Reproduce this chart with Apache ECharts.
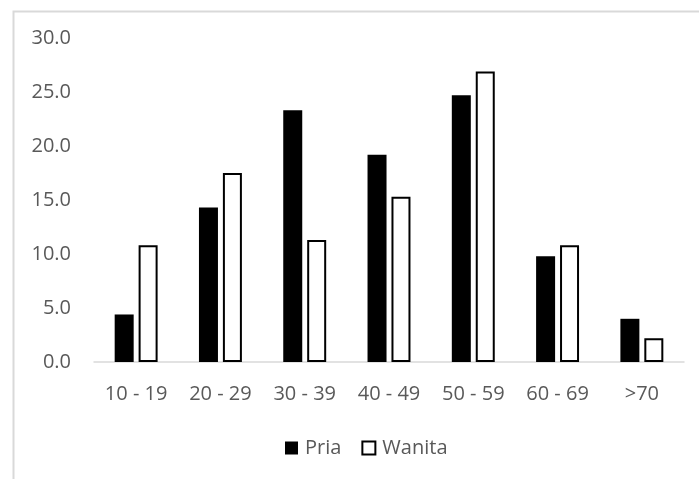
<!DOCTYPE html>
<html>
<head>
<meta charset="utf-8">
<script src="https://cdn.jsdelivr.net/npm/echarts@6/dist/echarts.min.js"></script>
<style>html,body{margin:0;padding:0;background:#fff;}#c{width:699px;height:479px;}</style>
</head>
<body>
<div id="c"></div>
<script>
const categories = ['10 - 19', '20 - 29', '30 - 39', '40 - 49', '50 - 59', '60 - 69', '>70'];
const pria = [4.4, 14.3, 23.3, 19.2, 24.7, 9.8, 4.0];
const wanita = [10.8, 17.5, 11.3, 15.3, 26.9, 10.8, 2.2];
const yTicks = { min: 0, max: 30, interval: 5 };

const chart = echarts.init(document.getElementById('c'), null, { renderer: 'canvas' });
const font = '"Open Sans", "Liberation Sans", sans-serif';
chart.setOption({
  animation: false,
  backgroundColor: '#fff',
  graphic: [{
    type: 'rect', left: 11, top: 9, z: -1, silent: true,
    shape: { width: 800, height: 600 },
    style: { fill: 'none', stroke: '#d9d9d9', lineWidth: 2 }
  }],
  grid: { left: 94, right: 15, top: 38, bottom: 117, containLabel: false },
  legend: {
    left: 280, top: 433,
    itemWidth: 13, itemHeight: 13, itemGap: 20,
    textStyle: { color: '#595959', fontSize: 20, fontFamily: font, padding: [0, 0, 0, 2] },
    data: [
      { name: 'Pria', icon: 'rect', itemStyle: { color: '#000', borderWidth: 0 } },
      { name: 'Wanita', icon: 'rect', itemStyle: { color: '#fff', borderColor: '#000', borderWidth: 2 } }
    ]
  },
  xAxis: {
    type: 'category', data: categories,
    axisLine: { show: true, lineStyle: { color: '#d9d9d9', width: 1.5 } },
    axisTick: { show: false },
    axisLabel: { color: '#595959', fontSize: 20, fontFamily: font, margin: 22, interval: 0 }
  },
  yAxis: {
    type: 'value', min: yTicks.min, max: yTicks.max, interval: yTicks.interval,
    axisLine: { show: false }, axisTick: { show: false }, splitLine: { show: false },
    axisLabel: { color: '#595959', fontSize: 20, fontFamily: font, margin: 23,
      formatter: v => v.toFixed(1) }
  },
  series: [
    { name: 'Pria', type: 'bar', data: pria, barWidth: 19, barGap: '26%',
      itemStyle: { color: '#000' } },
    { name: 'Wanita', type: 'bar', data: wanita, barWidth: 19, barGap: '26%',
      itemStyle: { color: '#fff', borderColor: '#000', borderWidth: 2 } }
  ]
});
</script>
</body>
</html>
